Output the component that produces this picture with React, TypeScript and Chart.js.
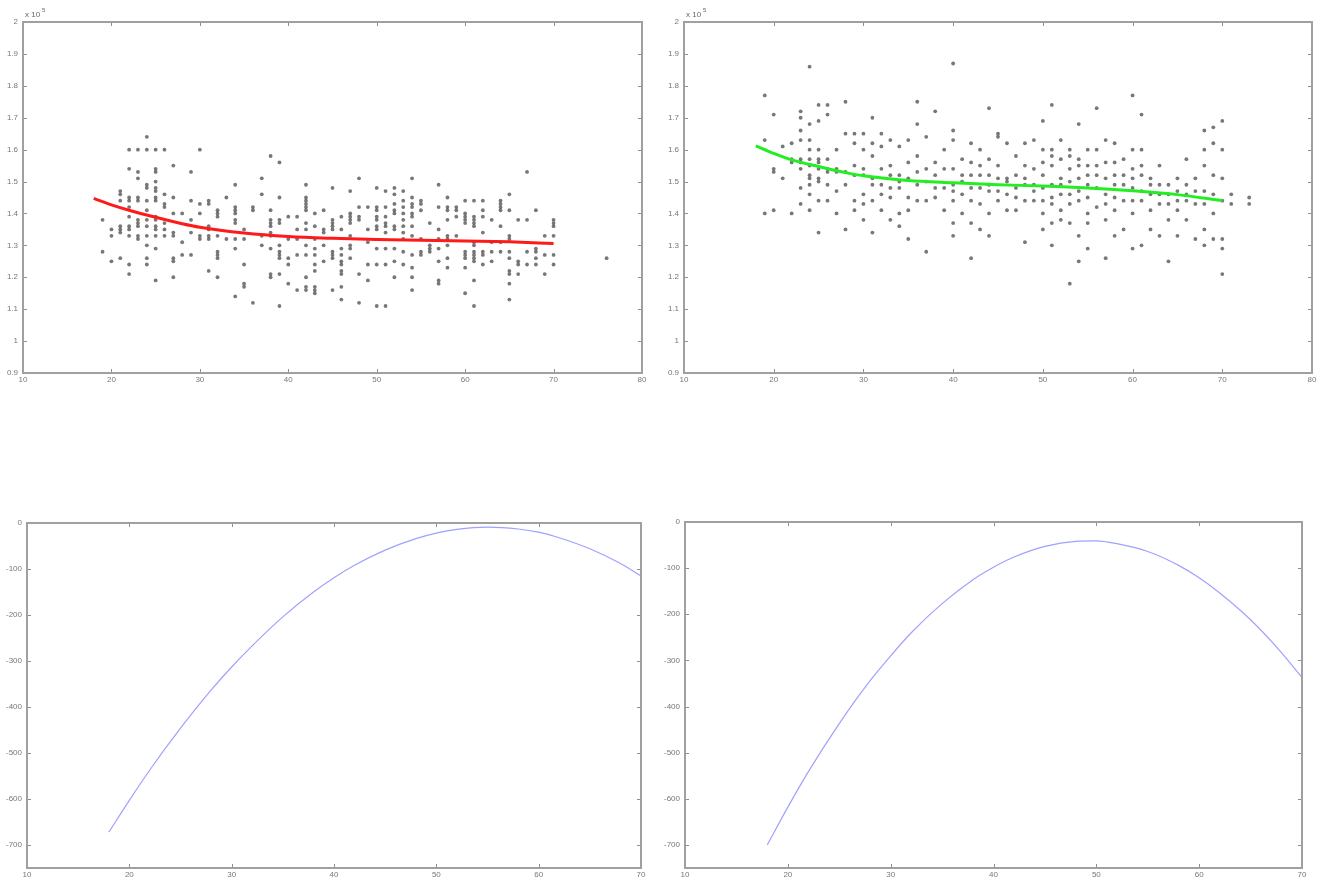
import React, { useEffect, useRef } from 'react';
import { Chart, registerables } from 'chart.js';
Chart.register(...registerables);

// ---------- tick labels ----------
const xTicksTop = [10, 20, 30, 40, 50, 60, 70, 80];
const yTicksTop = [0.9, 1, 1.1, 1.2, 1.3, 1.4, 1.5, 1.6, 1.7, 1.8, 1.9, 2];
const xTicksBottom = [10, 20, 30, 40, 50, 60, 70];
const yTicksBottom = [0, -100, -200, -300, -400, -500, -600, -700];
const yExponent = '5';

// ---------- top-left scatter (age, values) ----------
const leftScatter: [number, number[]][] = [
  [19, [1.38, 1.28]],
  [20, [1.35, 1.33, 1.25]],
  [21, [1.47, 1.46, 1.44, 1.36, 1.35, 1.34, 1.26]],
  [22, [1.6, 1.54, 1.45, 1.44, 1.42, 1.39, 1.36, 1.35, 1.33, 1.24, 1.21]],
  [23, [1.6, 1.53, 1.51, 1.45, 1.44, 1.38, 1.37, 1.36, 1.33, 1.32]],
  [24, [1.64, 1.6, 1.49, 1.48, 1.44, 1.41, 1.38, 1.36, 1.33, 1.3, 1.26, 1.24]],
  [25, [1.6, 1.54, 1.53, 1.5, 1.48, 1.47, 1.45, 1.44, 1.39, 1.38, 1.36, 1.35, 1.33, 1.29, 1.19]],
  [26, [1.6, 1.46, 1.43, 1.42, 1.37, 1.35, 1.33]],
  [27, [1.55, 1.45, 1.4, 1.34, 1.33, 1.26, 1.25, 1.2]],
  [28, [1.4, 1.31, 1.27]],
  [29, [1.53, 1.44, 1.38, 1.34, 1.27]],
  [30, [1.6, 1.43, 1.4, 1.33, 1.32]],
  [31, [1.44, 1.43, 1.36, 1.35, 1.33, 1.32, 1.22]],
  [32, [1.41, 1.4, 1.39, 1.33, 1.28, 1.27, 1.26, 1.2]],
  [33, [1.45, 1.32]],
  [34, [1.49, 1.42, 1.41, 1.4, 1.38, 1.37, 1.32, 1.29, 1.14]],
  [35, [1.35, 1.32, 1.24, 1.18, 1.17]],
  [36, [1.42, 1.41, 1.12]],
  [37, [1.51, 1.46, 1.33, 1.3]],
  [38, [1.58, 1.41, 1.38, 1.37, 1.36, 1.34, 1.33, 1.29, 1.21, 1.2]],
  [39, [1.56, 1.45, 1.38, 1.37, 1.3, 1.28, 1.27, 1.26, 1.21, 1.11]],
  [40, [1.39, 1.32, 1.26, 1.24, 1.18]],
  [41, [1.39, 1.35, 1.32, 1.27, 1.16]],
  [42, [1.49, 1.45, 1.44, 1.43, 1.42, 1.41, 1.37, 1.35, 1.3, 1.27, 1.2, 1.17, 1.16]],
  [43, [1.4, 1.36, 1.32, 1.29, 1.27, 1.24, 1.22, 1.17, 1.16, 1.15]],
  [44, [1.41, 1.35, 1.34, 1.3, 1.25]],
  [45, [1.48, 1.38, 1.37, 1.36, 1.35, 1.28, 1.27, 1.26, 1.16]],
  [46, [1.39, 1.35, 1.29, 1.27, 1.25, 1.24, 1.22, 1.21, 1.17, 1.13]],
  [47, [1.47, 1.4, 1.39, 1.38, 1.37, 1.33, 1.3, 1.29, 1.26]],
  [48, [1.51, 1.42, 1.39, 1.38, 1.21, 1.12]],
  [49, [1.42, 1.35, 1.31, 1.24, 1.19]],
  [50, [1.48, 1.42, 1.41, 1.39, 1.38, 1.36, 1.35, 1.29, 1.24, 1.11]],
  [51, [1.47, 1.42, 1.39, 1.37, 1.36, 1.34, 1.29, 1.24, 1.11]],
  [52, [1.48, 1.46, 1.43, 1.41, 1.4, 1.36, 1.35, 1.29, 1.25, 1.2]],
  [53, [1.47, 1.44, 1.42, 1.4, 1.38, 1.36, 1.34, 1.32, 1.28, 1.24]],
  [54, [1.51, 1.45, 1.43, 1.42, 1.4, 1.39, 1.36, 1.33, 1.27, 1.23, 1.2, 1.16]],
  [55, [1.44, 1.43, 1.41, 1.32, 1.28, 1.27]],
  [56, [1.37, 1.3, 1.29, 1.28]],
  [57, [1.49, 1.42, 1.35, 1.32, 1.29, 1.25, 1.19, 1.18]],
  [58, [1.45, 1.42, 1.41, 1.38, 1.33, 1.32, 1.3, 1.26, 1.23]],
  [59, [1.42, 1.41, 1.39, 1.33]],
  [60, [1.44, 1.4, 1.39, 1.38, 1.37, 1.28, 1.27, 1.26, 1.23, 1.15]],
  [61, [1.44, 1.39, 1.38, 1.37, 1.36, 1.31, 1.3, 1.28, 1.27, 1.26, 1.25, 1.19, 1.11]],
  [62, [1.44, 1.41, 1.39, 1.34, 1.28, 1.27, 1.24]],
  [63, [1.38, 1.31, 1.28, 1.25]],
  [64, [1.44, 1.43, 1.42, 1.41, 1.36, 1.31, 1.28]],
  [65, [1.46, 1.41, 1.33, 1.32, 1.28, 1.26, 1.22, 1.21, 1.18, 1.13]],
  [66, [1.38, 1.25, 1.24, 1.21]],
  [67, [1.53, 1.38, 1.28, 1.24]],
  [68, [1.41, 1.29, 1.28, 1.26, 1.24]],
  [69, [1.33, 1.27, 1.21]],
  [70, [1.38, 1.37, 1.36, 1.33, 1.27, 1.24]],
  [76, [1.26]],
];

// ---------- top-right scatter (age, values) ----------
const rightScatter: [number, number[]][] = [
  [19, [1.77, 1.63, 1.4]],
  [20, [1.71, 1.54, 1.53, 1.41]],
  [21, [1.61, 1.51]],
  [22, [1.62, 1.57, 1.56, 1.4]],
  [23, [1.72, 1.7, 1.66, 1.63, 1.57, 1.56, 1.54, 1.48, 1.43]],
  [24, [1.86, 1.68, 1.63, 1.6, 1.57, 1.55, 1.52, 1.51, 1.49, 1.46, 1.41]],
  [25, [1.74, 1.69, 1.6, 1.57, 1.56, 1.54, 1.51, 1.5, 1.44, 1.34]],
  [26, [1.74, 1.71, 1.57, 1.54, 1.53, 1.49, 1.44]],
  [27, [1.6, 1.54, 1.53, 1.47, 1.4]],
  [28, [1.75, 1.65, 1.53, 1.49, 1.35]],
  [29, [1.65, 1.62, 1.55, 1.52, 1.44, 1.41]],
  [30, [1.65, 1.6, 1.54, 1.52, 1.46, 1.43, 1.38]],
  [31, [1.7, 1.62, 1.58, 1.51, 1.49, 1.44, 1.34]],
  [32, [1.65, 1.61, 1.54, 1.49, 1.46, 1.41]],
  [33, [1.63, 1.55, 1.52, 1.48, 1.45, 1.38]],
  [34, [1.61, 1.52, 1.5, 1.48, 1.4, 1.36]],
  [35, [1.63, 1.56, 1.51, 1.45, 1.41, 1.32]],
  [36, [1.75, 1.68, 1.58, 1.53, 1.49, 1.44]],
  [37, [1.64, 1.54, 1.5, 1.44, 1.28]],
  [38, [1.72, 1.56, 1.52, 1.48, 1.45]],
  [39, [1.6, 1.54, 1.48, 1.41]],
  [40, [1.87, 1.66, 1.63, 1.54, 1.49, 1.47, 1.44, 1.37, 1.33]],
  [41, [1.57, 1.52, 1.5, 1.46, 1.4]],
  [42, [1.62, 1.56, 1.52, 1.48, 1.44, 1.37, 1.26]],
  [43, [1.6, 1.55, 1.52, 1.48, 1.43, 1.35]],
  [44, [1.73, 1.57, 1.52, 1.49, 1.47, 1.4, 1.33]],
  [45, [1.65, 1.64, 1.55, 1.51, 1.47, 1.44]],
  [46, [1.62, 1.51, 1.5, 1.46, 1.41]],
  [47, [1.58, 1.52, 1.48, 1.45, 1.41]],
  [48, [1.62, 1.55, 1.51, 1.49, 1.44, 1.31]],
  [49, [1.63, 1.54, 1.49, 1.47, 1.44]],
  [50, [1.69, 1.6, 1.56, 1.52, 1.48, 1.44, 1.4, 1.35]],
  [51, [1.74, 1.6, 1.58, 1.55, 1.49, 1.45, 1.43, 1.37, 1.3]],
  [52, [1.63, 1.57, 1.51, 1.49, 1.46, 1.41, 1.38]],
  [53, [1.6, 1.58, 1.54, 1.5, 1.46, 1.43, 1.37, 1.18]],
  [54, [1.68, 1.57, 1.55, 1.51, 1.47, 1.44, 1.33, 1.25]],
  [55, [1.6, 1.55, 1.52, 1.49, 1.45, 1.4, 1.37, 1.29]],
  [56, [1.73, 1.6, 1.55, 1.52, 1.48, 1.42]],
  [57, [1.63, 1.56, 1.51, 1.46, 1.43, 1.38, 1.26]],
  [58, [1.62, 1.56, 1.52, 1.49, 1.45, 1.41, 1.33]],
  [59, [1.57, 1.52, 1.49, 1.44, 1.35]],
  [60, [1.77, 1.6, 1.54, 1.51, 1.48, 1.44, 1.4, 1.29]],
  [61, [1.71, 1.6, 1.55, 1.52, 1.47, 1.44, 1.3]],
  [62, [1.51, 1.49, 1.46, 1.41, 1.35]],
  [63, [1.55, 1.49, 1.46, 1.43, 1.33]],
  [64, [1.49, 1.46, 1.43, 1.38, 1.25]],
  [65, [1.51, 1.47, 1.44, 1.41, 1.33]],
  [66, [1.57, 1.49, 1.46, 1.44, 1.38]],
  [67, [1.51, 1.47, 1.43, 1.32]],
  [68, [1.66, 1.6, 1.55, 1.47, 1.43, 1.35, 1.3]],
  [69, [1.67, 1.62, 1.52, 1.46, 1.4, 1.32]],
  [70, [1.69, 1.6, 1.51, 1.44, 1.32, 1.29, 1.21]],
  [71, [1.46, 1.43]],
  [73, [1.45, 1.43]],
];

// ---------- fitted curves ----------
const redCurveX = [18, 20, 22, 25, 28, 30, 35, 40, 45, 50, 55, 60, 65, 70];
const redCurveY = [1.447, 1.427, 1.41, 1.388, 1.368, 1.357, 1.339, 1.328, 1.322, 1.318, 1.316, 1.314, 1.311, 1.306];
const greenCurveX = [18, 20, 22, 25, 28, 30, 35, 40, 45, 50, 55, 60, 65, 70];
const greenCurveY = [1.612, 1.588, 1.568, 1.547, 1.528, 1.518, 1.503, 1.496, 1.49, 1.486, 1.48, 1.471, 1.459, 1.44];
const blueLeftX = [18, 20, 22, 25, 28, 30, 32, 35, 38, 40, 42, 45, 48, 50, 52, 55, 58, 60, 62, 65, 68, 70];
const blueLeftY = [-672, -603, -537, -446, -363, -313, -267, -204, -150, -119, -92, -59, -34, -22, -14, -9, -13, -20, -32, -56, -88, -115];
const blueRightX = [18, 20, 22, 25, 28, 30, 32, 35, 38, 40, 42, 45, 48, 50, 52, 55, 58, 60, 62, 65, 68, 70];
const blueRightY = [-700, -618, -541, -437, -344, -290, -240, -177, -125, -98, -76, -53, -42, -41, -47, -64, -94, -121, -154, -212, -283, -337];

const FONT = 'Liberation Sans, Arial, sans-serif';

const toPoints = (xs: number[], ys: number[]) => xs.map((x, i) => ({ x, y: ys[i] }));
const scatterPoints = (s: [number, number[]][]) =>
  s.flatMap(([age, vals]) => vals.map((v) => ({ x: age, y: v })));

const matlabAxes = {
  id: 'matlabAxes',
  afterDatasetsDraw(chart: any, _args: any, opts: any) {
    const { ctx, chartArea: a, scales } = chart;
    ctx.save();
    ctx.strokeStyle = '#8e8e8e';
    ctx.lineWidth = 1;
    ctx.beginPath();
    const tl = 4;
    scales.x.ticks.forEach((t: any) => {
      const px = Math.round(scales.x.getPixelForValue(t.value)) + 0.5;
      ctx.moveTo(px, a.bottom);
      ctx.lineTo(px, a.bottom - tl);
      ctx.moveTo(px, a.top);
      ctx.lineTo(px, a.top + tl);
    });
    scales.y.ticks.forEach((t: any) => {
      const py = Math.round(scales.y.getPixelForValue(t.value)) + 0.5;
      ctx.moveTo(a.left, py);
      ctx.lineTo(a.left + tl, py);
      ctx.moveTo(a.right, py);
      ctx.lineTo(a.right - tl, py);
    });
    ctx.stroke();
    ctx.lineWidth = 2;
    ctx.strokeStyle = '#a0a0a0';
    ctx.strokeRect(a.left, a.top, a.right - a.left, a.bottom - a.top);
    if (opts && opts.exponent) {
      ctx.fillStyle = '#666';
      ctx.font = `8px ${FONT}`;
      ctx.textBaseline = 'alphabetic';
      ctx.fillText('x 10', a.left + 2, a.top - 5);
      ctx.font = `6px ${FONT}`;
      ctx.fillText(opts.exponent, a.left + 19, a.top - 10);
    }
    ctx.restore();
  },
};

type PanelCfg = {
  left: number; top: number; width: number; height: number;
  yAxisW: number; xAxisH: number; padTop: number; padRight: number;
  xMin: number; xMax: number; yMin: number; yMax: number;
  xTicks: number[]; yTicks: number[];
  datasets: any[]; exponent?: string;
};

function Panel({ cfg }: { cfg: PanelCfg }) {
  const ref = useRef<HTMLCanvasElement | null>(null);
  useEffect(() => {
    if (!ref.current) return;
    const chart = new Chart(ref.current, {
      type: 'scatter',
      data: { datasets: cfg.datasets },
      plugins: [matlabAxes],
      options: {
        animation: false,
        responsive: false,
        maintainAspectRatio: false,
        layout: { padding: { left: 0, bottom: 0, top: cfg.padTop, right: cfg.padRight } },
        plugins: {
          legend: { display: false },
          tooltip: { enabled: false },
          // @ts-ignore
          matlabAxes: { exponent: cfg.exponent },
        },
        scales: {
          x: {
            type: 'linear',
            min: cfg.xMin,
            max: cfg.xMax,
            afterBuildTicks: (s: any) => { s.ticks = cfg.xTicks.map((v) => ({ value: v })); },
            afterFit: (s: any) => { s.height = cfg.xAxisH; },
            grid: { display: false, drawTicks: false },
            border: { display: false },
            ticks: { color: '#777', font: { size: 8, family: FONT }, padding: 2, maxRotation: 0, autoSkip: false },
          },
          y: {
            type: 'linear',
            min: cfg.yMin,
            max: cfg.yMax,
            afterBuildTicks: (s: any) => { s.ticks = cfg.yTicks.map((v) => ({ value: v })); },
            afterFit: (s: any) => { s.width = cfg.yAxisW; },
            grid: { display: false, drawTicks: false },
            border: { display: false },
            ticks: {
              color: '#777', font: { size: 8, family: FONT }, padding: 5, autoSkip: false,
              callback: (v: any) => String(Number(Number(v).toFixed(1))),
            },
          },
        },
      },
    });
    return () => chart.destroy();
  }, []);
  return (
    <canvas
      ref={ref}
      width={cfg.width}
      height={cfg.height}
      style={{ position: 'absolute', left: cfg.left, top: cfg.top, width: cfg.width, height: cfg.height }}
    />
  );
}

const scatterStyle = {
  type: 'scatter',
  pointRadius: 1.9,
  pointBackgroundColor: 'rgba(55,55,55,0.68)',
  pointBorderWidth: 0,
  showLine: false,
};

const lineStyle = (color: string, w: number) => ({
  type: 'line',
  borderColor: color,
  borderWidth: w,
  pointRadius: 0,
  fill: false,
  showLine: true,
  tension: 0.4,
  cubicInterpolationMode: 'monotone',
});

const panels: PanelCfg[] = [
  {
    left: 0, top: 0, width: 660, height: 400, yAxisW: 23, xAxisH: 27, padTop: 22, padRight: 18,
    xMin: 10, xMax: 80, yMin: 0.9, yMax: 2, xTicks: xTicksTop, yTicks: yTicksTop, exponent: yExponent,
    datasets: [
      { ...scatterStyle, data: scatterPoints(leftScatter), order: 2 },
      { ...lineStyle('#ff1a1a', 3), data: toPoints(redCurveX, redCurveY), order: 1 },
    ],
  },
  {
    left: 660, top: 0, width: 661, height: 400, yAxisW: 24, xAxisH: 27, padTop: 22, padRight: 9,
    xMin: 10, xMax: 80, yMin: 0.9, yMax: 2, xTicks: xTicksTop, yTicks: yTicksTop, exponent: yExponent,
    datasets: [
      { ...scatterStyle, data: scatterPoints(rightScatter), order: 2 },
      { ...lineStyle('#22ee22', 3), data: toPoints(greenCurveX, greenCurveY), order: 1 },
    ],
  },
  {
    left: 0, top: 480, width: 660, height: 399, yAxisW: 27, xAxisH: 11, padTop: 43, padRight: 19,
    xMin: 10, xMax: 70, yMin: -750, yMax: 0, xTicks: xTicksBottom, yTicks: yTicksBottom,
    datasets: [{ ...lineStyle('#a0a0ff', 1.2), data: toPoints(blueLeftX, blueLeftY) }],
  },
  {
    left: 660, top: 480, width: 661, height: 399, yAxisW: 25, xAxisH: 11, padTop: 42, padRight: 19,
    xMin: 10, xMax: 70, yMin: -750, yMax: 0, xTicks: xTicksBottom, yTicks: yTicksBottom,
    datasets: [{ ...lineStyle('#a0a0ff', 1.2), data: toPoints(blueRightX, blueRightY) }],
  },
];

export default function App() {
  return (
    <div style={{ position: 'fixed', left: 0, top: 0, width: 1321, height: 879, background: '#fff' }}>
      {panels.map((p, i) => (
        <Panel key={i} cfg={p} />
      ))}
    </div>
  );
}
